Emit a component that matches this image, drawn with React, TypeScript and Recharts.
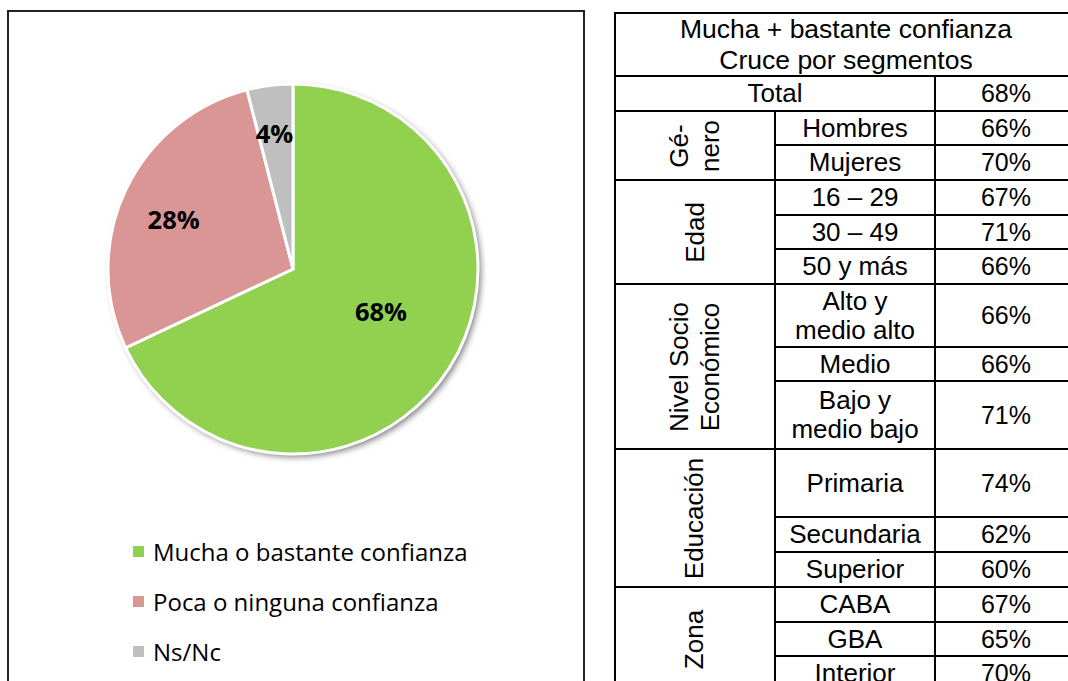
import React from 'react';
import { PieChart, Pie, Cell, Legend } from 'recharts';

// ---------- data ----------
const categories = ['Mucha o bastante confianza', 'Poca o ninguna confianza', 'Ns/Nc'];
const shares = [68, 28, 4];
const sliceColors = ['#92D050', '#DA9694', '#BFBFBF'];

const tableTitle = ['Mucha + bastante confianza', 'Cruce por segmentos'];
const totalLabel = 'Total';
const totalValue = 68;
const groupNames = ['Gé-\nnero', 'Edad', 'Nivel Socio\nEconómico', 'Educación', 'Zona'];
const groupSizes = [2, 3, 3, 3, 3];
const segmentNames = [
  'Hombres', 'Mujeres',
  '16 – 29', '30 – 49', '50 y más',
  'Alto y\nmedio alto', 'Medio', 'Bajo y\nmedio bajo',
  'Primaria', 'Secundaria', 'Superior',
  'CABA', 'GBA', 'Interior',
];
const segmentValues = [66, 70, 67, 71, 66, 66, 66, 71, 74, 62, 60, 67, 65, 70];

const pieData = categories.map((name, i) => ({ name, value: shares[i] }));

// ---------- layout ----------
const colX = [615, 775, 935, 1077];
const headerTop = 13;
const headerBottom = 76;
const totalBottom = 111;
const segHeights = [34, 35, 35, 34, 35, 63, 34, 68, 68, 35, 35, 35, 34, 35];

const labelPlacement = [
  { r: 0.527, shift: 6.9 },
  { r: 0.7, shift: 2.4 },
  { r: 0.74, shift: 0.6 },
];

const renderLabel = (props: any) => {
  const { cx, cy, midAngle, outerRadius, index, value } = props;
  const p = labelPlacement[index] || { r: 0.6, shift: 0 };
  const a = ((midAngle + p.shift) * Math.PI) / 180;
  const x = cx + outerRadius * p.r * Math.cos(-a);
  const y = cy + outerRadius * p.r * Math.sin(-a);
  return (
    <text
      x={x}
      y={y}
      textAnchor="middle"
      dominantBaseline="central"
      fontFamily="'Open Sans', sans-serif"
      fontWeight={700}
      fontSize={25.5}
      fill="#000"
    >
      {`${value}%`}
    </text>
  );
};

const renderLegend = () => {
  return (
    <div>
      {categories.map((c, i) => (
        <div
          key={i}
          style={{
            height: 50,
            display: 'flex',
            alignItems: 'center',
            fontFamily: "'Open Sans', sans-serif",
            fontSize: 24,
            color: '#000',
            whiteSpace: 'nowrap',
          }}
        >
          <span
            style={{
              display: 'inline-block',
              width: 11,
              height: 11,
              background: sliceColors[i],
              marginRight: 9,
              flexShrink: 0,
            }}
          />
          <span>{c}</span>
        </div>
      ))}
    </div>
  );
};

const cellBase: React.CSSProperties = {
  position: 'absolute',
  border: '2px solid #000',
  boxSizing: 'border-box',
  display: 'flex',
  alignItems: 'center',
  justifyContent: 'center',
  textAlign: 'center',
  whiteSpace: 'pre-line',
  lineHeight: '29px',
  color: '#000',
};

function TCell(props: { x1: number; x2: number; y1: number; y2: number; children?: React.ReactNode; vertical?: boolean; lh?: number; fs?: number }) {
  const { x1, x2, y1, y2, children, vertical, lh, fs } = props;
  return (
    <div
      style={{
        ...cellBase,
        left: x1 - 1,
        top: y1 - 1,
        width: x2 - x1 + 2,
        height: y2 - y1 + 2,
        lineHeight: lh ? `${lh}px` : cellBase.lineHeight,
        fontSize: fs,
      }}
    >
      {vertical ? (
        <div style={{ transform: 'rotate(-90deg)', whiteSpace: 'pre', flexShrink: 0, lineHeight: '31px' }}>{children}</div>
      ) : (
        children
      )}
    </div>
  );
}

function SegmentTable() {
  const cells: React.ReactNode[] = [];
  cells.push(
    <TCell key="h" x1={colX[0]} x2={colX[3]} y1={headerTop} y2={headerBottom} lh={31} fs={26.5}>
      {tableTitle.join('\n')}
    </TCell>
  );
  cells.push(
    <TCell key="tl" x1={colX[0]} x2={colX[2]} y1={headerBottom} y2={totalBottom} fs={26}>
      {totalLabel}
    </TCell>
  );
  cells.push(
    <TCell key="tv" x1={colX[2]} x2={colX[3]} y1={headerBottom} y2={totalBottom}>
      {`${totalValue}%`}
    </TCell>
  );
  let y = totalBottom;
  let s = 0;
  groupNames.forEach((g, gi) => {
    const gTop = y;
    for (let k = 0; k < groupSizes[gi]; k++) {
      const h = segHeights[s];
      cells.push(
        <TCell key={`sn${s}`} x1={colX[1]} x2={colX[2]} y1={y} y2={y + h} fs={26}>
          {segmentNames[s]}
        </TCell>
      );
      cells.push(
        <TCell key={`sv${s}`} x1={colX[2]} x2={colX[3]} y1={y} y2={y + h}>
          {`${segmentValues[s]}%`}
        </TCell>
      );
      y += h;
      s++;
    }
    cells.push(
      <TCell key={`g${gi}`} x1={colX[0]} x2={colX[1]} y1={gTop} y2={y} vertical fs={26}>
        {g}
      </TCell>
    );
  });
  return (
    <div style={{ position: 'absolute', left: 0, top: 0, fontFamily: "'Liberation Sans', Arial, sans-serif", fontSize: 25 }}>
      {cells}
    </div>
  );
}

export default function App() {
  return (
    <div
      style={{
        position: 'absolute',
        left: 0,
        top: 0,
        width: 1068,
        height: 681,
        overflow: 'hidden',
        background: '#fff',
      }}
    >
      <div
        style={{
          position: 'absolute',
          left: 7,
          top: 10,
          width: 578,
          height: 720,
          border: '2px solid #222',
          boxSizing: 'border-box',
        }}
      />
      <div style={{ position: 'absolute', left: 0, top: 0 }}>
        <PieChart width={600} height={681} margin={{ top: 0, right: 0, bottom: 0, left: 0 }}>
          <Pie
            data={pieData}
            dataKey="value"
            nameKey="name"
            cx={293}
            cy={269}
            outerRadius={185}
            startAngle={90}
            endAngle={-270}
            isAnimationActive={false}
            legendType="none"
            stroke="none"
            label={false}
            labelLine={false}
          >
            {pieData.map((_, i) => (
              <Cell key={`s${i}`} fill="#fff" style={{ filter: 'drop-shadow(3px 3px 3px rgba(0,0,0,0.5))' }} />
            ))}
          </Pie>
          <Pie
            data={pieData}
            dataKey="value"
            nameKey="name"
            cx={293}
            cy={269}
            outerRadius={185}
            startAngle={90}
            endAngle={-270}
            isAnimationActive={false}
            stroke="#fff"
            strokeWidth={3}
            label={renderLabel}
            labelLine={false}
          >
            {pieData.map((_, i) => (
              <Cell key={`c${i}`} fill={sliceColors[i]} stroke="#fff" strokeWidth={3} />
            ))}
          </Pie>
          <Legend
            content={renderLegend}
            wrapperStyle={{ position: 'absolute', left: 133, top: 526, width: 440, height: 150 }}
          />
        </PieChart>
      </div>
      <SegmentTable />
    </div>
  );
}
